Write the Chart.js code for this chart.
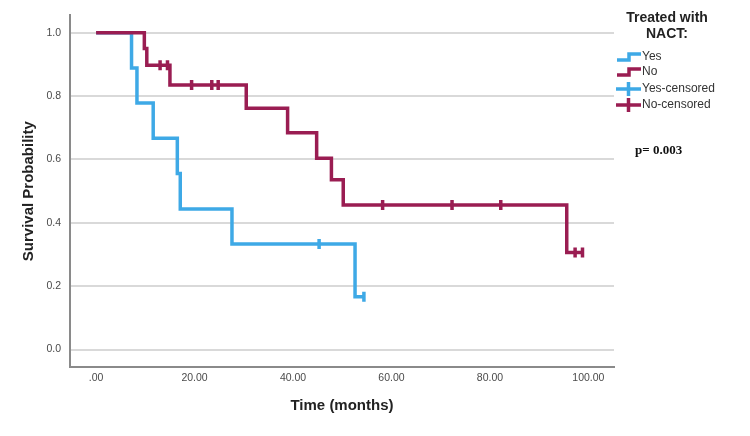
<!DOCTYPE html>
<html>
<head>
<meta charset="utf-8">
<script src="https://cdn.jsdelivr.net/npm/chart.js@4/dist/chart.umd.min.js"></script>
<style>
  html, body { margin: 0; padding: 0; background: #ffffff; }
  #wrap { width: 750px; height: 436px; position: relative; }
</style>
</head>
<body>
<div id="wrap"><canvas id="c" width="750" height="436"></canvas></div>
<script>
// ---- Data ----
const yesTimes = [0, 7.2, 8.3, 11.6, 16.5, 17.1, 27.6, 52.6, 54.4];
const yesSurv  = [1.0, 0.889, 0.778, 0.667, 0.556, 0.444, 0.333, 0.167, 0.167];
const yesCensorTimes = [45.3, 54.4];
const yesCensorSurv  = [0.333, 0.167];

const noTimes = [0, 9.8, 10.3, 15.0, 30.5, 38.9, 44.8, 47.8, 50.2, 95.6, 98.8];
const noSurv  = [1.0, 0.950, 0.897, 0.835, 0.762, 0.684, 0.604, 0.536, 0.456, 0.306, 0.306];
const noCensorTimes = [13.0, 14.5, 19.4, 23.5, 24.8, 58.2, 72.3, 82.2, 97.3, 98.8];
const noCensorSurv  = [0.897, 0.897, 0.835, 0.835, 0.835, 0.456, 0.456, 0.456, 0.306, 0.306];

const xTicks = [0, 20, 40, 60, 80, 100];
const yTicks = [0, 0.2, 0.4, 0.6, 0.8, 1.0];
const legendLabels = ['Yes', 'No', 'Yes-censored', 'No-censored'];
const legendTitle = ['Treated with', 'NACT:'];
const pValueText = 'p= 0.003';

const BLUE = '#3ea9e6';
const MAROON = '#9a1d52';

const pts = (xs, ys) => xs.map((x, i) => ({x: x, y: ys[i]}));

const legendPlugin = {
  id: 'kmLegend',
  afterDraw(chart) {
    const ctx = chart.ctx;
    ctx.save();
    ctx.fillStyle = '#222';
    ctx.font = 'bold 14px "Liberation Sans", Arial, sans-serif';
    ctx.textAlign = 'center';
    ctx.textBaseline = 'middle';
    ctx.fillText(legendTitle[0], 667, 18);
    ctx.fillText(legendTitle[1], 667, 34);

    const colors = [BLUE, MAROON, BLUE, MAROON];
    const ys = [57, 72, 89, 105];
    ctx.lineWidth = 3.5;
    for (let i = 0; i < 4; i++) {
      const y = ys[i];
      ctx.strokeStyle = colors[i];
      ctx.beginPath();
      if (i < 2) {
        ctx.moveTo(617, y + 3);
        ctx.lineTo(629, y + 3);
        ctx.lineTo(629, y - 3);
        ctx.lineTo(641, y - 3);
      } else {
        ctx.moveTo(616, y);
        ctx.lineTo(641, y);
        ctx.moveTo(628.5, y - 7);
        ctx.lineTo(628.5, y + 7);
      }
      ctx.stroke();
      ctx.fillStyle = '#333';
      ctx.font = '12px "Liberation Sans", Arial, sans-serif';
      ctx.textAlign = 'left';
      ctx.fillText(legendLabels[i], 642, y);
    }

    ctx.fillStyle = '#111';
    ctx.font = 'bold 13px "Liberation Serif", "Times New Roman", serif';
    ctx.textAlign = 'left';
    ctx.fillText(pValueText, 635, 151);
    ctx.restore();
  }
};

new Chart(document.getElementById('c'), {
  type: 'line',
  data: {
    datasets: [
      {
        label: legendLabels[0],
        data: pts(yesTimes, yesSurv),
        borderColor: BLUE,
        borderWidth: 3.5,
        stepped: 'before',
        pointRadius: 0,
        fill: false,
        order: 2
      },
      {
        label: legendLabels[1],
        data: pts(noTimes, noSurv),
        borderColor: MAROON,
        borderWidth: 3.5,
        stepped: 'before',
        pointRadius: 0,
        fill: false,
        order: 1
      },
      {
        label: legendLabels[2],
        type: 'scatter',
        data: pts(yesCensorTimes, yesCensorSurv),
        borderColor: BLUE,
        backgroundColor: BLUE,
        pointStyle: 'line',
        rotation: 90,
        pointRadius: 5,
        borderWidth: 3.5,
        showLine: false,
        order: 0
      },
      {
        label: legendLabels[3],
        type: 'scatter',
        data: pts(noCensorTimes, noCensorSurv),
        borderColor: MAROON,
        backgroundColor: MAROON,
        pointStyle: 'line',
        rotation: 90,
        pointRadius: 5,
        borderWidth: 3.5,
        showLine: false,
        order: 0
      }
    ]
  },
  options: {
    responsive: false,
    animation: false,
    layout: { padding: { top: 5, right: 136, left: 0, bottom: 0 } },
    plugins: {
      legend: { display: false },
      tooltip: { enabled: false }
    },
    scales: {
      x: {
        type: 'linear',
        min: -5.3,
        max: 105.2,
        afterBuildTicks(scale) { scale.ticks = xTicks.map(v => ({value: v})); },
        afterFit(scale) { scale.height = 69; },
        ticks: {
          padding: 5,
          color: '#4a4a4a',
          font: { family: '"Liberation Sans", Arial, sans-serif', size: 10.5 },
          maxRotation: 0,
          callback: v => (v === 0 ? '.00' : v.toFixed(2))
        },
        grid: { display: false, drawTicks: false },
        border: { display: true, color: '#8a8a8a', width: 2 },
        title: {
          display: true,
          text: 'Time (months)',
          color: '#222',
          font: { family: '"Liberation Sans", Arial, sans-serif', size: 15, weight: 'bold' },
          padding: { top: 0, bottom: 21 }
        }
      },
      y: {
        type: 'linear',
        min: -0.055,
        max: 1.055,
        afterBuildTicks(scale) { scale.ticks = yTicks.map(v => ({value: v})); },
        afterFit(scale) { scale.width = 70; },
        ticks: {
          padding: 9,
          color: '#4a4a4a',
          font: { family: '"Liberation Sans", Arial, sans-serif', size: 10.5 },
          callback: v => v.toFixed(1)
        },
        grid: { color: '#d9d9d9', lineWidth: 2, drawTicks: false },
        border: { display: true, color: '#8a8a8a', width: 2 },
        title: {
          display: true,
          text: 'Survival Probability',
          color: '#222',
          font: { family: '"Liberation Sans", Arial, sans-serif', size: 15, weight: 'bold' },
          padding: { top: 20, bottom: 0 }
        }
      }
    }
  },
  plugins: [legendPlugin]
});
</script>
</body>
</html>
